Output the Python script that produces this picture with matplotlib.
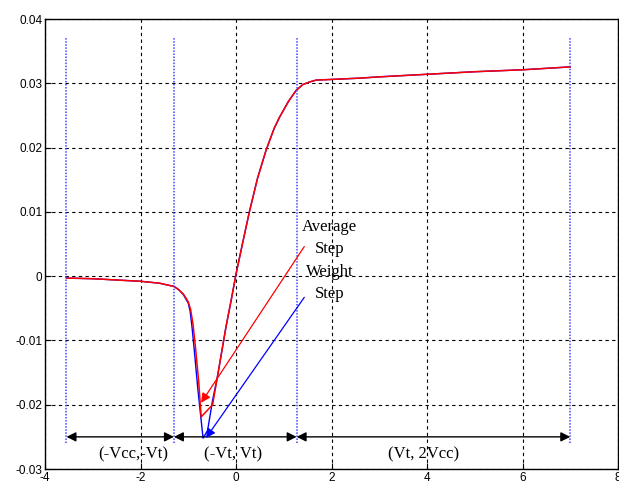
import numpy as np
import matplotlib
matplotlib.use('Agg')
import matplotlib.pyplot as plt

plt.rcParams['axes.unicode_minus'] = False

# curve: red = average step, blue = weight step
x_avg = [-3.55, -3.0, -2.5, -2.0, -1.6, -1.3, -1.2, -1.1, -1.0, -0.95, -0.9,
         -0.85, -0.78, -0.73, -0.49, -0.39, -0.3, -0.21, -0.1, 0.0, 0.14, 0.28,
         0.45, 0.63, 0.8, 0.91, 1.1, 1.26, 1.4, 1.54, 1.68, 2.0, 2.59, 3.0,
         4.0, 5.0, 6.0, 7.0]
y_avg = [-0.0003, -0.0004, -0.0006, -0.0008, -0.0011, -0.0016, -0.0021, -0.0028,
         -0.0040, -0.0052, -0.0075, -0.0110, -0.0165, -0.0219, -0.0200, -0.0157,
         -0.0118, -0.0079, -0.0037, 0.0003, 0.0052, 0.0100, 0.0152, 0.0196,
         0.0230, 0.0247, 0.0272, 0.0289, 0.0298, 0.0302, 0.0305, 0.0306, 0.0308,
         0.0310, 0.0314, 0.0318, 0.0321, 0.03255]
x_wgt = [-3.55, -3.0, -2.5, -2.0, -1.6, -1.3, -1.2, -1.1, -1.0, -0.96, -0.92,
         -0.87, -0.80, -0.69, -0.595, -0.49, -0.39, -0.3, -0.21, -0.1, 0.0,
         0.14, 0.28, 0.45, 0.63, 0.8, 0.91, 1.1, 1.26, 1.4, 1.54, 1.68, 2.0,
         2.59, 3.0, 4.0, 5.0, 6.0, 7.0]
y_wgt = [-0.0003, -0.0004, -0.0006, -0.0008, -0.0011, -0.0016, -0.0021, -0.0029,
         -0.0042, -0.0055, -0.0080, -0.0118, -0.0175, -0.0252, -0.0240, -0.0193,
         -0.0157, -0.0118, -0.0079, -0.0037, 0.0003, 0.0052, 0.0100, 0.0152,
         0.0196, 0.0230, 0.0247, 0.0272, 0.0289, 0.0298, 0.0302, 0.0305, 0.0306,
         0.0308, 0.0310, 0.0314, 0.0318, 0.0321, 0.03255]

# region borders and labels
borders = [-3.55, -1.3, 1.27, 7.0]
region_labels = ['(-Vcc,-Vt)', '(-Vt, Vt)', '(Vt, 2Vcc)']
region_x = [-2.15, -0.07, 3.92]

fig = plt.figure(figsize=(6.19, 4.88), dpi=100)
ax = fig.add_axes([45/619, 19/488, 573/619, 450/488])

ax.plot(x_wgt, y_wgt, color='blue', lw=1.0)
ax.plot(x_avg, y_avg, color='red', lw=1.1)

for b in borders:
    ax.plot([b, b], [-0.026, 0.0372], color='#4444ff', ls=(0, (1, 1)), lw=1.1)

for i in range(3):
    ax.annotate('', xy=(borders[i], -0.025), xytext=(borders[i+1], -0.025),
                arrowprops=dict(arrowstyle='<|-|>', color='black', lw=1.0,
                                mutation_scale=14, shrinkA=0, shrinkB=0))
    ax.text(region_x[i], -0.0278, region_labels[i], ha='center', va='center',
            fontsize=12, family='Liberation Serif')

ax.annotate('', xy=(-0.73, -0.0197), xytext=(1.43, 0.0046),
            arrowprops=dict(arrowstyle='-|>', color='red', lw=0.9,
                            mutation_scale=14, shrinkA=0, shrinkB=0))
ax.annotate('', xy=(-0.63, -0.0252), xytext=(1.43, -0.0033),
            arrowprops=dict(arrowstyle='-|>', color='blue', lw=0.9,
                            mutation_scale=14, shrinkA=0, shrinkB=0))

for s, yy in zip(['Average', 'Step', 'Weight', 'Step'], [0.0076, 0.0042, 0.0006, -0.0027]):
    ax.text(1.96, yy, s, ha='center', va='center', fontsize=12, family='Liberation Serif')

ax.set_xlim(-4, 8)
ax.set_ylim(-0.03, 0.04)
ax.set_xticks(np.arange(-4, 9, 2))
ax.set_yticks(np.arange(-0.03, 0.041, 0.01))
ax.set_yticklabels(['-0.03', '-0.02', '-0.01', '0', '0.01', '0.02', '0.03', '0.04'])
ax.grid(True, color='black', ls=(0, (3, 3)), lw=0.8)
ax.tick_params(direction='in', length=4, labelsize=8.5, pad=2)
for lab in ax.get_xticklabels() + ax.get_yticklabels():
    lab.set_family('Liberation Sans')
for sp in ax.spines.values():
    sp.set_linewidth(1.0)

plt.savefig('out.png')
